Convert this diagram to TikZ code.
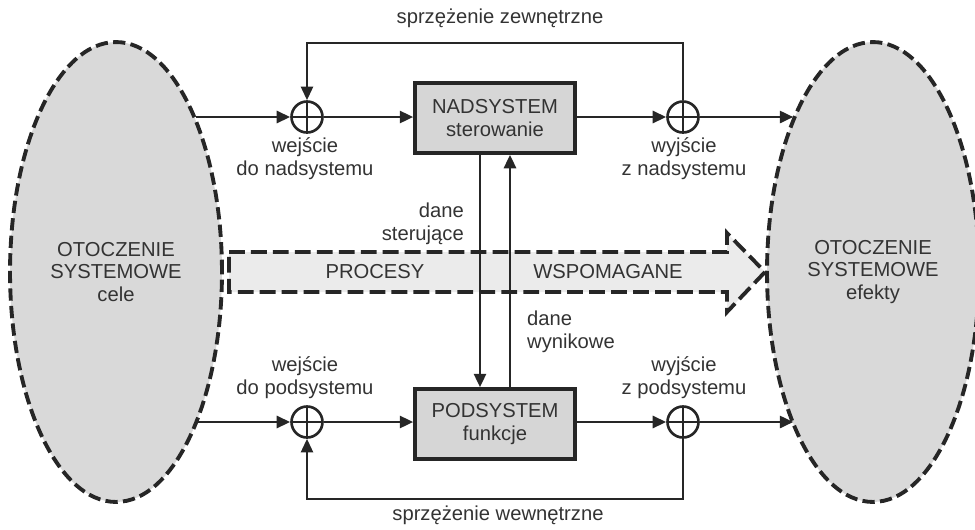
\documentclass[tikz,border=0pt]{standalone}
\usepackage{fontspec}
\setmainfont{Liberation Sans}
\usetikzlibrary{arrows.meta,shapes.geometric}
\definecolor{ink}{HTML}{262626}
\definecolor{txt}{HTML}{333333}
\definecolor{envfill}{HTML}{D9D9D9}
\definecolor{boxfill}{HTML}{D6D6D6}
\definecolor{procfill}{HTML}{EBEBEB}
\tikzset{
  env/.style={ellipse, draw=ink, fill=envfill, line width=2.2pt, dash pattern=on 7pt off 3pt,
    minimum width=4.24cm, minimum height=9.2cm, align=center, text=txt, inner sep=0pt},
  sysbox/.style={draw=ink, fill=boxfill, line width=2pt, minimum width=3.2cm,
    minimum height=1.4cm, align=center, text=txt},
  sumnode/.style={circle, draw=ink, line width=1.5pt, minimum size=0.62cm, inner sep=0pt,
    path picture={\draw[ink, line width=1.1pt]
      (path picture bounding box.north) -- (path picture bounding box.south)
      (path picture bounding box.west) -- (path picture bounding box.east);}},
  lbl/.style={align=center, text=txt},
  flow/.style={draw=ink, line width=1.6pt, -{Triangle[length=2.7mm,width=2.4mm]}},
  fb/.style={flow, line width=1.3pt},
}
\begin{document}
\begin{tikzpicture}[x=0.02cm, y=-0.02cm, font=\fontsize{11.5}{13}\selectfont]
  \useasboundingbox (0,0) rectangle (975,529);
  % otoczenie
  \node[env] (ellL) at (116,272) {OTOCZENIE\\SYSTEMOWE\\cele};
  \node[env] (ellR) at (873,272) {OTOCZENIE\\SYSTEMOWE\\efekty};

  % procesy wspomagane
  \draw[ink, fill=procfill, line width=2.2pt, dash pattern=on 9pt off 3.5pt]
    (229,252) -- (727,252) -- (727,233) -- (765,272) -- (727,312) -- (727,292) -- (229,292) -- cycle;
  \node[text=txt] (proc) at (375,272) {PROCESY};
  \node[text=txt] (wsp) at (608,272) {WSPOMAGANE};

  % nadsystem / podsystem
  \node[sysbox] (nad) at (495,118) {NADSYSTEM\\sterowanie};
  \node[sysbox] (pod) at (495,424) {PODSYSTEM\\funkcje};
  \node[sumnode] (sumA) at (307,117) {};
  \node[sumnode] (sumB) at (683,117) {};
  \node[sumnode] (sumC) at (307,422) {};
  \node[sumnode] (sumD) at (683,422) {};

  \draw[flow] (ellL.63 |- sumA) -- (sumA);
  \draw[flow] (sumA) -- (sumA -| nad.west);
  \draw[flow] (sumB -| nad.east) -- (sumB);
  \draw[flow] (sumB) -- (ellR.117 |- sumB);
  \draw[flow] (ellL.-63 |- sumC) -- (sumC);
  \draw[flow] (sumC) -- (sumC -| pod.west);
  \draw[flow] (sumD -| pod.east) -- (sumD);
  \draw[flow] (sumD) -- (ellR.-117 |- sumD);

  % dane
  \coordinate (ctl) at (480,0);
  \coordinate (res) at (510,0);
  \draw[flow] (nad.south -| ctl) -- (pod.north -| ctl);
  \draw[flow] (pod.north -| res) -- (nad.south -| res);

  % sprzezenia
  \coordinate (fbTop) at (0,43);
  \coordinate (fbBot) at (0,499);
  \draw[fb] (sumB.north) -- (sumB |- fbTop) -- (sumA |- fbTop) -- (sumA.north);
  \draw[fb] (sumD.south) -- (sumD |- fbBot) -- (sumC |- fbBot) -- (sumC.south);

  \node[lbl] (zew) at (500,18) {sprzężenie zewnętrzne};
  \node[lbl] (wew) at (498,515) {sprzężenie wewnętrzne};
  \node[lbl] (inNad) at (305,159) {wejście\\do nadsystemu};
  \node[lbl] (outNad) at (684,159) {wyjście\\z nadsystemu};
  \node[lbl] (inPod) at (305,378) {wejście\\do podsystemu};
  \node[lbl] (outPod) at (684,378) {wyjście\\z podsystemu};
  \node[lbl, anchor=east, align=right] (ctlLbl) at (470,224) {dane\\sterujące};
  \node[lbl, anchor=west, align=left] (resLbl) at (521,332) {dane\\wynikowe};
\end{tikzpicture}
\end{document}
